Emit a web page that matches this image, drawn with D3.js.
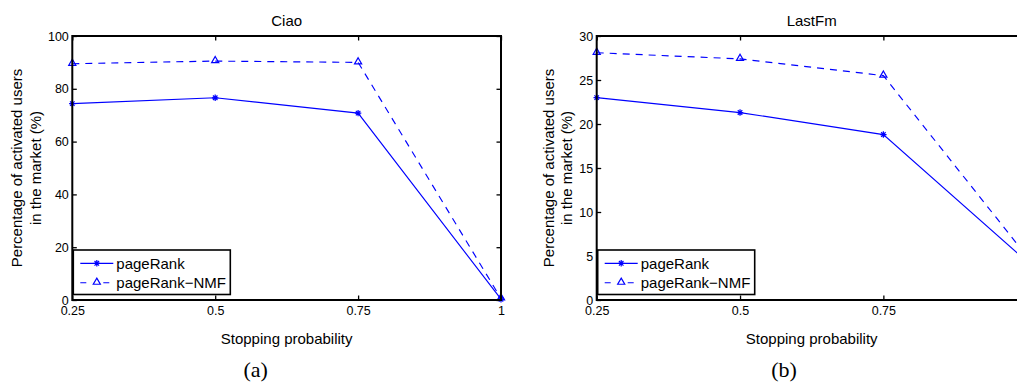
<!DOCTYPE html>
<html>
<head>
<meta charset="utf-8">
<script src="https://cdn.jsdelivr.net/npm/d3@7"></script>
<style>
  body { margin: 0; background: #fff; }
  svg { display: block; font-family: "Liberation Sans", Arial, Helvetica, sans-serif; }
</style>
</head>
<body>
<div id="chart"></div>
<script>
// x values (stopping probability)
var stopProb = [0.25, 0.5, 0.75, 1];
var xTicks = [0.25, 0.5, 0.75, 1];

// Ciao
var ciaoPageRank = [74.4, 76.6, 70.8, 0.3];
var ciaoNMF = [89.5, 90.5, 90.0, 0.6];
var ciaoYTicks = [0, 20, 40, 60, 80, 100];

// LastFm
var lastfmPageRank = [23.0, 21.3, 18.8, 4.4];
var lastfmNMF = [28.1, 27.4, 25.5, 5.0];
var lastfmYTicks = [0, 5, 10, 15, 20, 25, 30];

var seriesNames = ["pageRank", "pageRank\u2212NMF"];

var W = 1017, H = 384;
var blue = "#0000ff";

var svg = d3.select("#chart").append("svg")
    .attr("width", W)
    .attr("height", H);

// asterisk marker: plus + x
function starPath(r) {
    var d = r * 0.7071;
    return "M" + (-r) + ",0L" + r + ",0M0," + (-r) + "L0," + r +
        "M" + (-d) + "," + (-d) + "L" + d + "," + d +
        "M" + (-d) + "," + d + "L" + d + "," + (-d);
}
var triPath = d3.symbol().type(d3.symbolTriangle).size(22)();

function drawPanel(p) {
    var g = svg.append("g");

    var x = d3.scaleLinear().domain([0.25, 1]).range([p.left, p.right]);
    var y = d3.scaleLinear().domain([0, p.yMax]).range([300, 36]);

    // only label the ticks that fall inside the picture
    var shown = xTicks.filter(function(t) { return x(t) < W - 4; });

    // ticks (inward, on all four sides)
    g.append("g")
        .attr("transform", "translate(0,300)")
        .call(d3.axisBottom(x).tickValues(shown).tickSize(-4.5).tickPadding(6.5)
            .tickFormat(d3.format("")))
        .call(function(a) {
            a.select(".domain").remove();
            a.selectAll("line").attr("stroke-width", 1.3);
            a.selectAll("text").attr("font-size", 12.5).attr("fill", "#000")
                .attr("font-family", "Liberation Sans, Arial, sans-serif");
        });
    g.append("g")
        .attr("transform", "translate(0,36)")
        .call(d3.axisTop(x).tickValues(shown).tickSize(-4.5).tickFormat(""))
        .call(function(a) {
            a.select(".domain").remove();
            a.selectAll("line").attr("stroke-width", 1.3);
        });
    g.append("g")
        .attr("transform", "translate(" + p.left + ",0)")
        .call(d3.axisLeft(y).tickValues(p.yTicks).tickSize(-4.5).tickPadding(3.5))
        .call(function(a) {
            a.select(".domain").remove();
            a.selectAll("line").attr("stroke-width", 1.3);
            a.selectAll("text").attr("font-size", 12.5).attr("fill", "#000")
                .attr("font-family", "Liberation Sans, Arial, sans-serif");
        });
    g.append("g")
        .attr("transform", "translate(" + p.right + ",0)")
        .call(d3.axisRight(y).tickValues(p.yTicks).tickSize(-4.5).tickFormat(""))
        .call(function(a) {
            a.select(".domain").remove();
            a.selectAll("line").attr("stroke-width", 1.3);
        });

    var line = d3.line()
        .x(function(d, i) { return x(stopProb[i]); })
        .y(function(d) { return y(d); });

    // pageRank
    g.append("path").datum(p.pr)
        .attr("d", line)
        .attr("fill", "none").attr("stroke", blue).attr("stroke-width", 1.15);
    g.selectAll(".star").data(p.pr).enter().append("path")
        .attr("transform", function(d, i) { return "translate(" + x(stopProb[i]) + "," + y(d) + ")"; })
        .attr("d", starPath(3.2))
        .attr("stroke", blue).attr("stroke-width", 1.2).attr("fill", "none");

    // pageRank-NMF
    g.append("path").datum(p.nmf)
        .attr("d", line)
        .attr("fill", "none").attr("stroke", blue).attr("stroke-width", 1.15)
        .attr("stroke-dasharray", "7,6");
    g.selectAll(".tri").data(p.nmf).enter().append("path")
        .attr("transform", function(d, i) { return "translate(" + x(stopProb[i]) + "," + (y(d) - 0.5) + ")"; })
        .attr("d", triPath)
        .attr("stroke", blue).attr("stroke-width", 1.2).attr("fill", "none");

    // axes box
    g.append("rect")
        .attr("x", p.left).attr("y", 36)
        .attr("width", p.right - p.left).attr("height", 264)
        .attr("fill", "none").attr("stroke", "#000").attr("stroke-width", 2);

    // legend
    var lg = g.append("g").attr("transform", "translate(" + (p.left + 1) + ",250)");
    lg.append("rect")
        .attr("width", 157).attr("height", 44.5)
        .attr("fill", "#fff").attr("stroke", "#000").attr("stroke-width", 1.6);
    var rows = [13.3, 32.7];
    lg.append("line").attr("x1", 7).attr("x2", 40).attr("y1", rows[0]).attr("y2", rows[0])
        .attr("stroke", blue).attr("stroke-width", 1.15);
    lg.append("path").attr("d", starPath(3.2))
        .attr("transform", "translate(23.5," + rows[0] + ")")
        .attr("stroke", blue).attr("stroke-width", 1.2).attr("fill", "none");
    lg.append("line").attr("x1", 7).attr("x2", 40).attr("y1", rows[1]).attr("y2", rows[1])
        .attr("stroke", blue).attr("stroke-width", 1.15).attr("stroke-dasharray", "6,5.5");
    lg.append("rect").attr("x", 18).attr("y", rows[1] - 4).attr("width", 11).attr("height", 8)
        .attr("fill", "#fff");
    lg.append("path").attr("d", triPath)
        .attr("transform", "translate(23.5," + (rows[1] - 0.5) + ")")
        .attr("stroke", blue).attr("stroke-width", 1.2).attr("fill", "none");
    lg.selectAll("text.lab").data(seriesNames).enter().append("text")
        .attr("x", 43).attr("y", function(d, i) { return rows[i]; })
        .attr("dy", "0.36em")
        .attr("font-size", 15)
        .text(function(d) { return d; });

    // title
    var cx = (p.left + p.right) / 2;
    g.append("text").attr("x", cx).attr("y", 26)
        .attr("text-anchor", "middle").attr("font-size", 15)
        .text(p.title);

    // x label
    g.append("text").attr("x", cx).attr("y", 343.5)
        .attr("text-anchor", "middle").attr("font-size", 15)
        .text("Stopping probability");

    // y label, two lines
    var yl = ["Percentage of activated users", "in the market (%)"];
    yl.forEach(function(t, i) {
        g.append("text")
            .attr("transform", "translate(" + p.yLabX[i] + ",168) rotate(-90)")
            .attr("text-anchor", "middle").attr("dy", "0.36em")
            .attr("font-size", 15)
            .text(t);
    });

    // panel letter
    g.append("text").attr("x", p.capX).attr("y", 377)
        .attr("text-anchor", "middle")
        .attr("font-family", "Liberation Serif, Times New Roman, serif")
        .attr("font-size", 22)
        .text(p.caption);
}

drawPanel({
    title: "Ciao", caption: "(a)",
    left: 72.3, right: 501, yMax: 100, yTicks: ciaoYTicks,
    pr: ciaoPageRank, nmf: ciaoNMF,
    yLabX: [16.7, 36], capX: 255.7
});

drawPanel({
    title: "LastFm", caption: "(b)",
    left: 596.7, right: 1026.7, yMax: 30, yTicks: lastfmYTicks,
    pr: lastfmPageRank, nmf: lastfmNMF,
    yLabX: [548.3, 566.7], capX: 784
});
</script>
</body>
</html>
